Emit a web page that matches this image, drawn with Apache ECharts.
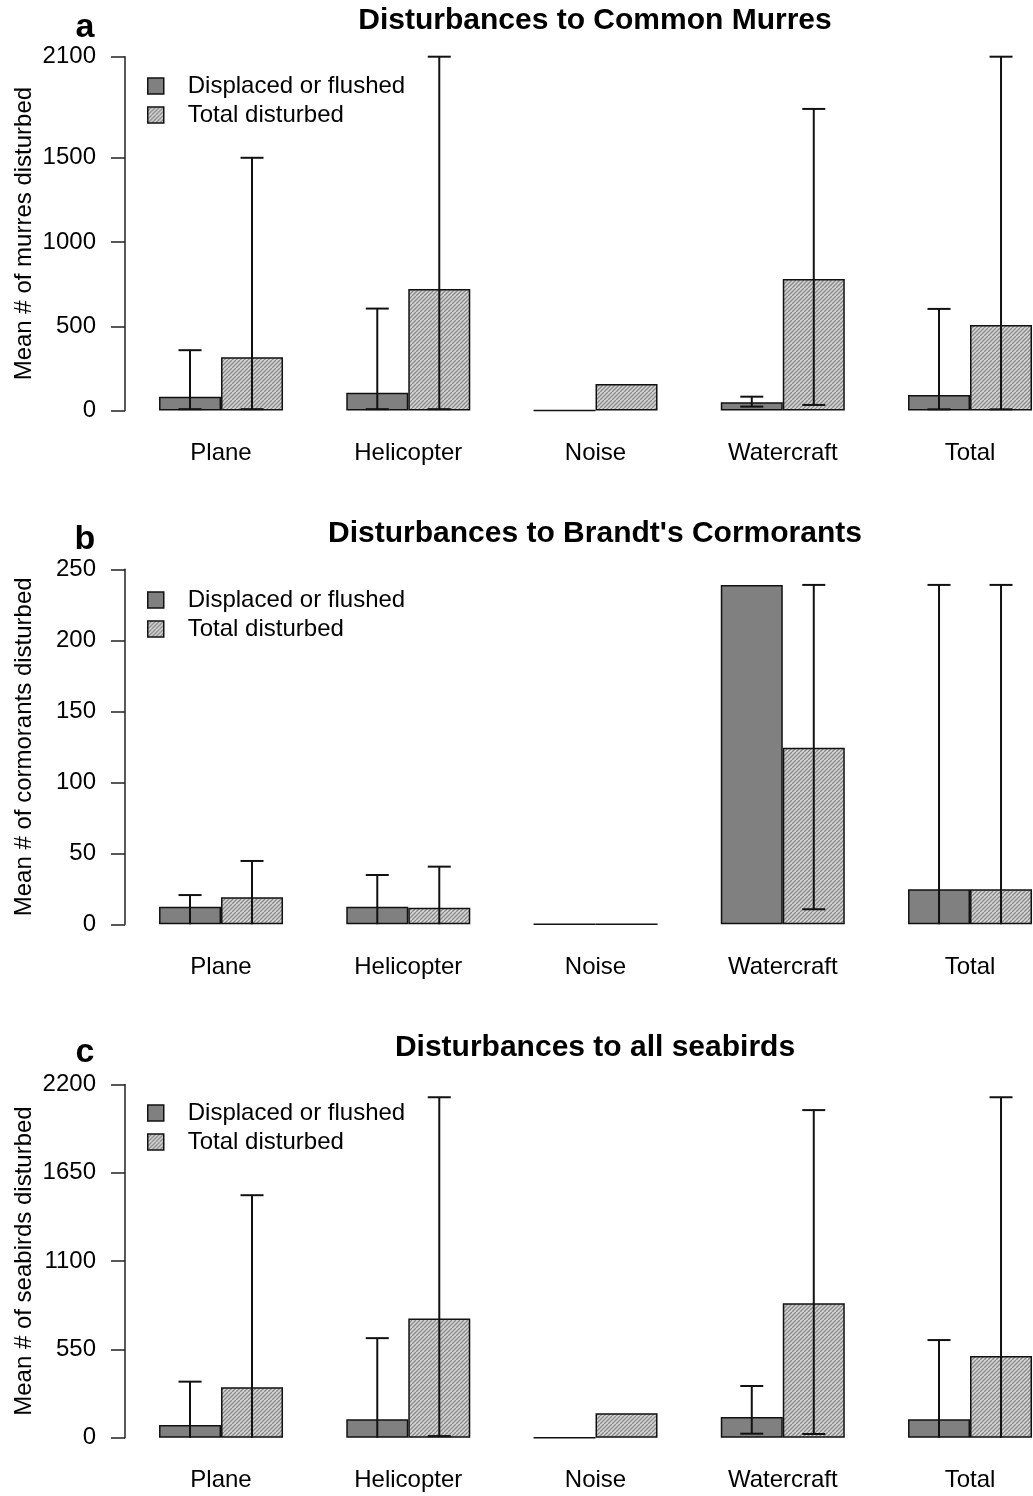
<!DOCTYPE html>
<html>
<head>
<meta charset="utf-8">
<title>Disturbances to seabirds</title>
<script src="https://cdn.jsdelivr.net/npm/echarts@6/dist/echarts.min.js"></script>
<style>
  html, body { margin: 0; padding: 0; background: #fff; }
  #chart { width: 1033px; height: 1496px; }
</style>
</head>
<body>
<div id="chart"></div>
<script>
// Disturbance sources (x categories)
const categories = ['Plane', 'Helicopter', 'Noise', 'Watercraft', 'Total'];
const seriesNames = ['Displaced or flushed', 'Total disturbed'];

// Panel a: Common Murres — means and error-bar bounds (null = no error bar)
const murresDisplaced = [82, 106, 0, 49, 92];
const murresTotal = [316, 721, 157, 780, 507];
const murresDisplacedLow = [8, 8, null, 23, 7];
const murresDisplacedHigh = [358, 605, null, 82, 603];
const murresTotalLow = [8, 8, null, 33, 7];
const murresTotalHigh = [1500, 2100, null, 1790, 2100];
const murresTicks = [0, 500, 1000, 1500, 2100];

// Panel b: Brandt's Cormorants
const cormorantsDisplaced = [12.4, 12.4, 0, 239, 24.6];
const cormorantsTotal = [19, 11.7, 0, 124.4, 24.6];
const cormorantsDisplacedLow = [0, 0, null, null, 0];
const cormorantsDisplacedHigh = [20.6, 34.7, null, null, 239];
const cormorantsTotalLow = [0, 0, null, 10.6, 0];
const cormorantsTotalHigh = [44.6, 40.6, null, 239, 239];
const cormorantsTicks = [0, 50, 100, 150, 200, 250];

// Panel c: all seabirds
const seabirdsDisplaced = [79, 115, 0, 129, 115];
const seabirdsTotal = [314, 742, 152, 837, 509];
const seabirdsDisplacedLow = [0, 0, null, 25, 0];
const seabirdsDisplacedHigh = [349, 620, null, 322, 608];
const seabirdsTotalLow = [0, 10, null, 23, 0];
const seabirdsTotalHigh = [1510, 2120, null, 2040, 2120];
const seabirdsTicks = [0, 550, 1100, 1650, 2200];

const FONT = "'Liberation Sans', Arial, Helvetica, sans-serif";
const BAR_W = 62;
const INK = '#111';

// diagonal hatch used for the "Total disturbed" bars
function hatchCanvas() {
  const c = document.createElement('canvas');
  c.width = 8; c.height = 8;
  const g = c.getContext('2d');
  g.fillStyle = '#d6d6d6';
  g.fillRect(0, 0, 8, 8);
  g.strokeStyle = '#8a8a8a';
  g.lineWidth = 1.3;
  for (const k of [-8, -4, 0, 4, 8]) {
    g.beginPath(); g.moveTo(k, 8); g.lineTo(k + 8, 0); g.stroke();
  }
  return c;
}
const hatch = { image: hatchCanvas(), repeat: 'repeat' };

const panels = [
  {
    letter: 'a', title: 'Disturbances to Common Murres',
    yName: 'Mean # of murres disturbed',
    top: 56.7, height: 353.8, max: 2100, ticks: murresTicks,
    disp: murresDisplaced, tot: murresTotal,
    dLo: murresDisplacedLow, dHi: murresDisplacedHigh,
    tLo: murresTotalLow, tHi: murresTotalHigh
  },
  {
    letter: 'b', title: "Disturbances to Brandt's Cormorants",
    yName: 'Mean # of cormorants disturbed',
    top: 569.3, height: 355, max: 250, ticks: cormorantsTicks,
    disp: cormorantsDisplaced, tot: cormorantsTotal,
    dLo: cormorantsDisplacedLow, dHi: cormorantsDisplacedHigh,
    tLo: cormorantsTotalLow, tHi: cormorantsTotalHigh
  },
  {
    letter: 'c', title: 'Disturbances to all seabirds',
    yName: 'Mean # of seabirds disturbed',
    top: 1084.4, height: 353.3, max: 2200, ticks: seabirdsTicks,
    disp: seabirdsDisplaced, tot: seabirdsTotal,
    dLo: seabirdsDisplacedLow, dHi: seabirdsDisplacedHigh,
    tLo: seabirdsTotalLow, tHi: seabirdsTotalHigh
  }
];

function errorData(lo, hi, side) {
  const out = [];
  categories.forEach((c, i) => {
    if (hi[i] != null) out.push([i, lo[i], hi[i], side]);
  });
  return out;
}

function renderErrorBar(params, api) {
  const i = api.value(0), lo = api.value(1), hi = api.value(2), side = api.value(3);
  const pTop = api.coord([i, hi]);
  const pBot = api.coord([i, lo]);
  const x = pTop[0] + side * BAR_W / 2;
  const capHalf = 11.5;
  const children = [{
    type: 'line',
    shape: { x1: x, y1: pTop[1], x2: x, y2: pBot[1] },
    style: { stroke: INK, lineWidth: 2 }
  }, {
    type: 'line',
    shape: { x1: x - capHalf, y1: pTop[1], x2: x + capHalf, y2: pTop[1] },
    style: { stroke: INK, lineWidth: 2 }
  }];
  if (lo > 0) {
    children.push({
      type: 'line',
      shape: { x1: x - capHalf, y1: pBot[1], x2: x + capHalf, y2: pBot[1] },
      style: { stroke: INK, lineWidth: 2 }
    });
  }
  return { type: 'group', children };
}

const option = {
  animation: false,
  backgroundColor: '#fff',
  textStyle: { fontFamily: FONT },
  grid: [], xAxis: [], yAxis: [], series: [], legend: [], graphic: []
};

const titleMid = [21, 534, 1048];
const letterMid = [28, 540, 1053];
const legendTop = [74, 588, 1101];

panels.forEach((p, k) => {
  // the last group runs past the right edge of the page, so the grid is not clamped to it
  option.grid.push({ left: 127.4, width: 936.25, top: p.top, height: p.height,
                     outerBoundsMode: 'none', containLabel: false });
  option.xAxis.push({
    type: 'category', gridIndex: k, data: categories,
    axisLine: { show: false }, axisTick: { show: false },
    axisLabel: { margin: 31, fontSize: 24, color: '#000', fontFamily: FONT },
    splitLine: { show: false }
  });
  option.yAxis.push({
    type: 'value', gridIndex: k, min: 0, max: p.max, offset: 2.4,
    axisLine: { show: true, lineStyle: { color: '#222', width: 1.5 } },
    axisTick: { show: true, length: 14, customValues: p.ticks, lineStyle: { color: '#222', width: 1.5 } },
    axisLabel: { customValues: p.ticks, margin: 29, fontSize: 24, color: '#000', fontFamily: FONT,
                 formatter: v => String(v) },
    splitLine: { show: false }
  });
  option.series.push({
    name: seriesNames[0], type: 'bar', xAxisIndex: k, yAxisIndex: k,
    data: p.disp, barWidth: BAR_W, barGap: '0%',
    itemStyle: { color: '#808080', borderColor: INK, borderWidth: 1.5 }
  });
  option.series.push({
    name: seriesNames[1], type: 'bar', xAxisIndex: k, yAxisIndex: k,
    data: p.tot, barWidth: BAR_W, barGap: '0%',
    itemStyle: { color: hatch, borderColor: INK, borderWidth: 1.5 }
  });
  option.series.push({
    type: 'custom', xAxisIndex: k, yAxisIndex: k, z: 5,
    data: errorData(p.dLo, p.dHi, -1), renderItem: renderErrorBar,
    encode: { x: 0, y: [1, 2] }, silent: true
  });
  option.series.push({
    type: 'custom', xAxisIndex: k, yAxisIndex: k, z: 5,
    data: errorData(p.tLo, p.tHi, 1), renderItem: renderErrorBar,
    encode: { x: 0, y: [1, 2] }, silent: true
  });
  option.legend.push({
    data: seriesNames, orient: 'vertical', left: 147, top: legendTop[k],
    padding: 0, itemGap: 5, itemWidth: 16, itemHeight: 16, icon: 'rect',
    selectedMode: false,
    itemStyle: { borderColor: INK, borderWidth: 1.5 },
    textStyle: { fontSize: 24, color: '#000', fontFamily: FONT, padding: [0, 0, 0, 19] }
  });
  option.graphic.push({
    type: 'text', x: 595, y: titleMid[k],
    style: { text: p.title, align: 'center', verticalAlign: 'middle',
             font: 'bold 30px ' + FONT, fill: '#000' }
  });
  option.graphic.push({
    type: 'text', x: 85, y: letterMid[k],
    style: { text: p.letter, align: 'center', verticalAlign: 'middle',
             font: 'bold 34px ' + FONT, fill: '#000' }
  });
  option.graphic.push({
    type: 'text', x: 24, y: p.top + p.height / 2, rotation: Math.PI / 2,
    style: { text: p.yName, align: 'center', verticalAlign: 'middle',
             font: '24px ' + FONT, fill: '#000' }
  });
});

const chart = echarts.init(document.getElementById('chart'), null, { renderer: 'canvas' });
chart.setOption(option);
</script>
</body>
</html>
